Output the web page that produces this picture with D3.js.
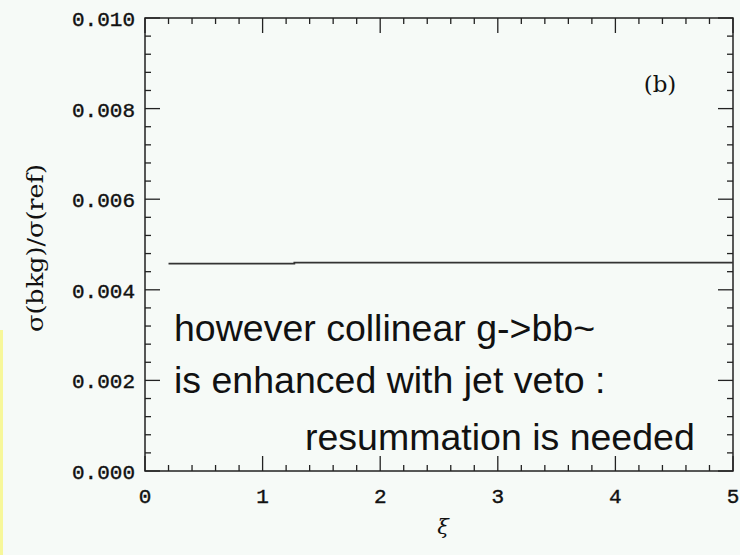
<!DOCTYPE html>
<html>
<head>
<meta charset="utf-8">
<script src="https://cdn.jsdelivr.net/npm/d3@7"></script>
<style>
  html, body { margin: 0; padding: 0; background: #f6faf7; }
  svg { display: block; }
</style>
</head>
<body>
<svg id="chart" width="740" height="555"></svg>
<script>
// Background cross-section ratio versus the scale parameter xi
const xiValues    = [0.2, 1.27, 1.27, 5.0];
const ratioValues = [0.00458, 0.00458, 0.0046, 0.0046];

const xTicks = [0, 1, 2, 3, 4, 5];
const yTicks = [0.000, 0.002, 0.004, 0.006, 0.008, 0.010];
const xMinor = d3.range(0, 5.0001, 0.2);
const yMinor = d3.range(0, 0.01001, 0.0004);

const noteLines = ["however collinear g->bb~", "is enhanced with jet veto :", "resummation is needed"];

const svg = d3.select("#chart");
const W = 740, H = 555;
const m = { left: 145, right: 7, top: 18, bottom: 84 };

const x = d3.scaleLinear().domain([0, 5]).range([m.left, W - m.right]);
const y = d3.scaleLinear().domain([0, 0.010]).range([H - m.bottom, m.top]);

svg.append("rect").attr("width", W).attr("height", H).attr("fill", "#f6faf7");

// thin yellow strip along the lower left edge
svg.append("rect").attr("x", 0).attr("y", 330).attr("width", 3).attr("height", H - 330)
  .attr("fill", "#f7f79a");

const ink = "#222";
const tickFont = "'Liberation Mono', 'Courier New', monospace";

// frame
svg.append("rect")
  .attr("x", x(0)).attr("y", y(0.010))
  .attr("width", x(5) - x(0)).attr("height", y(0) - y(0.010))
  .attr("fill", "none").attr("stroke", ink).attr("stroke-width", 1.5);

const tickG = svg.append("g").attr("stroke", ink).attr("stroke-width", 1.3);
const majLen = 15, minLen = 6;

function isMajor(v, arr) { return arr.some(t => Math.abs(t - v) < 1e-9); }

xMinor.forEach(v => {
  const len = isMajor(v, xTicks) ? majLen : minLen;
  const px = x(v);
  tickG.append("line").attr("x1", px).attr("x2", px).attr("y1", y(0)).attr("y2", y(0) - len);
  tickG.append("line").attr("x1", px).attr("x2", px).attr("y1", y(0.010)).attr("y2", y(0.010) + len);
});
yMinor.forEach(v => {
  const len = isMajor(v, yTicks) ? majLen : minLen;
  const py = y(v);
  tickG.append("line").attr("x1", x(0)).attr("x2", x(0) + len).attr("y1", py).attr("y2", py);
  tickG.append("line").attr("x1", x(5)).attr("x2", x(5) - len).attr("y1", py).attr("y2", py);
});

// tick labels
svg.append("g").selectAll("text").data(yTicks).join("text")
  .attr("x", x(0) - 10).attr("y", d => y(d))
  .attr("dy", "0.38em")
  .attr("text-anchor", "end")
  .attr("font-family", tickFont).attr("font-size", 21)
  .attr("fill", "#111").attr("stroke", "#111").attr("stroke-width", 0.4)
  .text(d => d3.format(".3f")(d));

svg.append("g").selectAll("text").data(xTicks).join("text")
  .attr("x", d => x(d)).attr("y", y(0) + 24)
  .attr("dy", "0.38em")
  .attr("text-anchor", "middle")
  .attr("font-family", tickFont).attr("font-size", 21)
  .attr("fill", "#111").attr("stroke", "#111").attr("stroke-width", 0.4)
  .text(d => d3.format("d")(d));

// axis titles
svg.append("text")
  .attr("x", 443).attr("y", 534)
  .attr("text-anchor", "middle")
  .attr("font-family", "'DejaVu Serif', serif").attr("font-style", "italic")
  .attr("font-size", 21).attr("fill", "#111")
  .text("ξ");

svg.append("text")
  .attr("transform", "translate(43,248) rotate(-90)")
  .attr("text-anchor", "middle")
  .attr("font-family", "'DejaVu Serif', serif")
  .attr("font-size", 22).attr("fill", "#111")
  .attr("textLength", 168).attr("lengthAdjust", "spacingAndGlyphs")
  .text("σ(bkg)/σ(ref)");

svg.append("text")
  .attr("x", 660).attr("y", 92)
  .attr("text-anchor", "middle")
  .attr("font-family", "'DejaVu Serif', serif")
  .attr("font-size", 23).attr("fill", "#111")
  .text("(b)");

// curve
const line = d3.line().x((d, i) => x(xiValues[i])).y(d => y(d));
svg.append("path")
  .datum(ratioValues)
  .attr("d", line)
  .attr("fill", "none").attr("stroke", "#333").attr("stroke-width", 1.8);

// annotation
const noteFont = "'Liberation Sans', Arial, Helvetica, sans-serif";
const notePos = [[174, 341], [174, 393], [305, 450]];
noteLines.forEach((t, i) => {
  svg.append("text")
    .attr("x", notePos[i][0]).attr("y", notePos[i][1])
    .attr("font-family", noteFont).attr("font-size", 37.5)
    .attr("fill", "#111")
    .text(t);
});
</script>
</body>
</html>
